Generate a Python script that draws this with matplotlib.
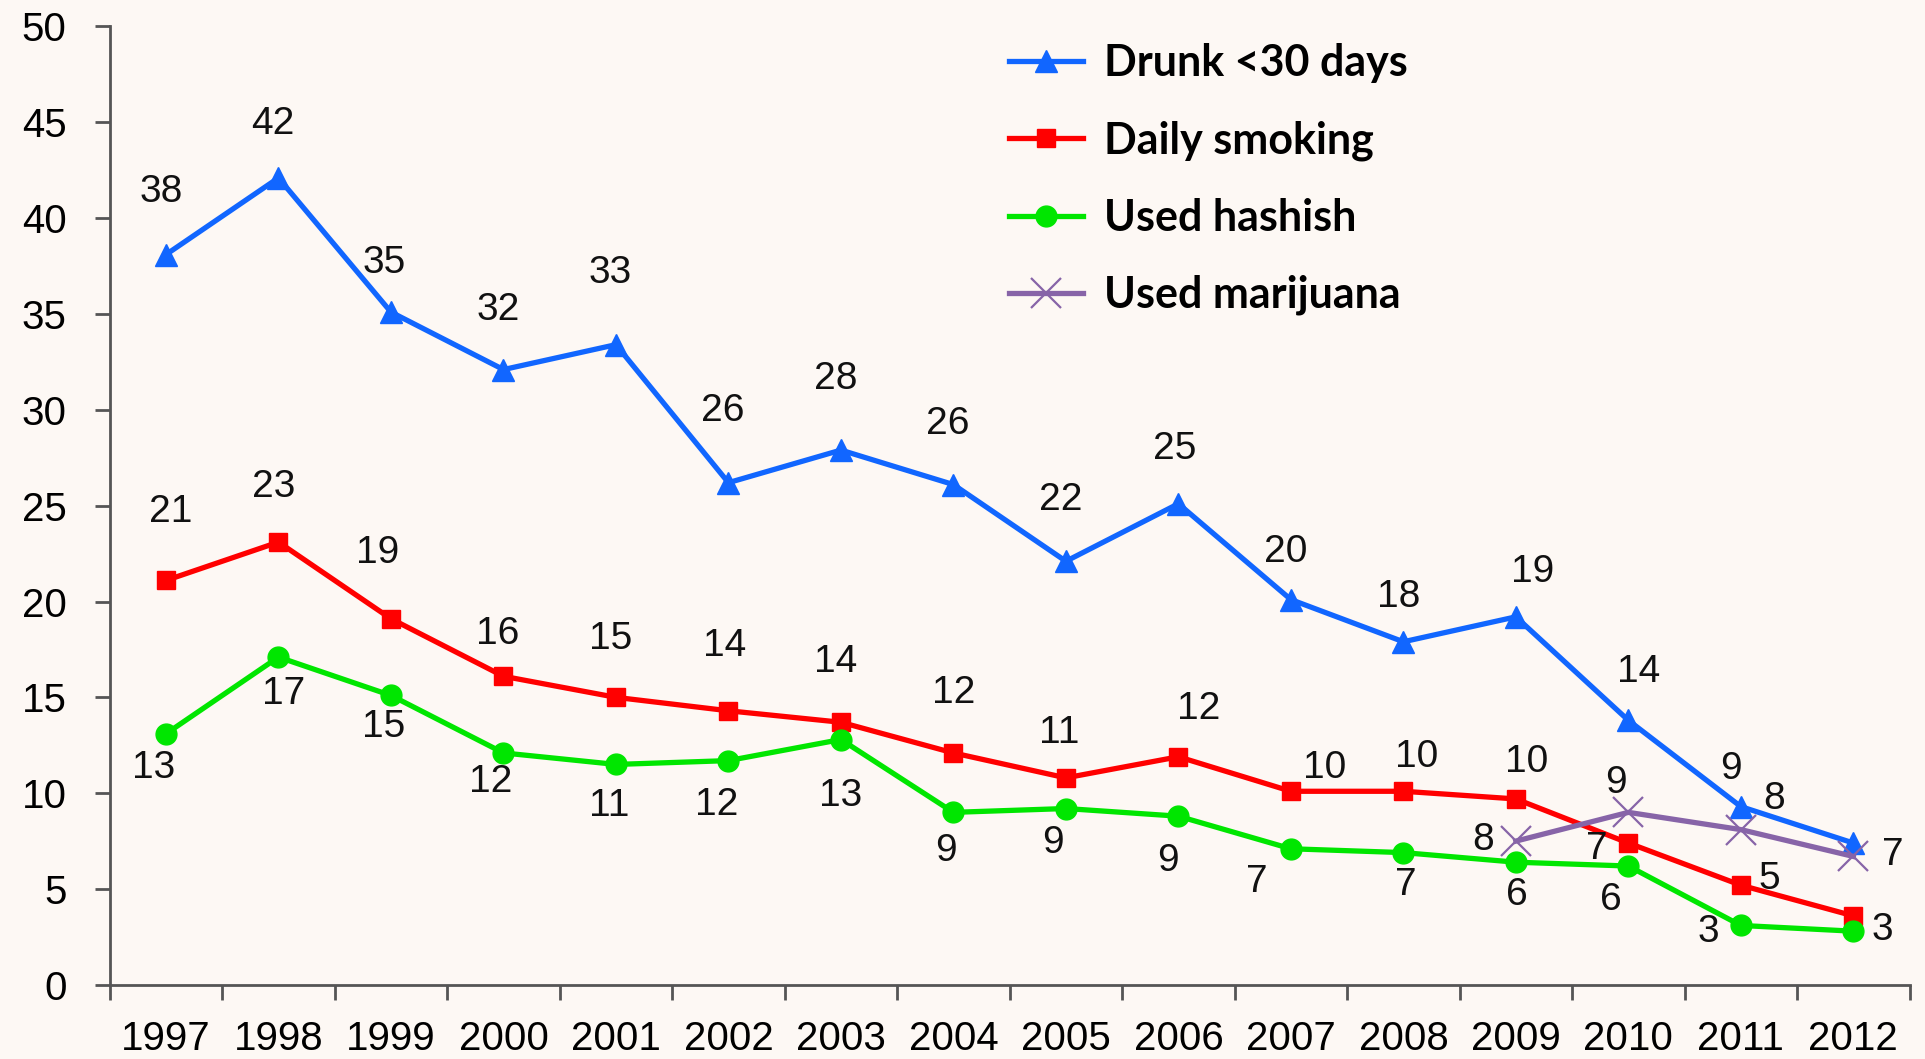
import matplotlib
matplotlib.use("Agg")
import matplotlib.pyplot as plt

years = ["1997", "1998", "1999", "2000", "2001", "2002", "2003", "2004",
         "2005", "2006", "2007", "2008", "2009", "2010", "2011", "2012"]

drunk = [38.1, 42.1, 35.1, 32.1, 33.4, 26.2, 27.9, 26.1,
         22.1, 25.1, 20.1, 17.9, 19.2, 13.8, 9.3, 7.4]
drunk_labels = ["38", "42", "35", "32", "33", "26", "28", "26",
                "22", "25", "20", "18", "19", "14", "9", "7"]

smoking = [21.1, 23.1, 19.1, 16.1, 15.0, 14.3, 13.7, 12.1,
           10.8, 11.9, 10.1, 10.1, 9.7, 7.4, 5.2, 3.6]
# the 2012 value shares its "3" with the hashish label in the source
smoking_labels = ["21", "23", "19", "16", "15", "14", "14", "12",
                  "11", "12", "10", "10", "10", "7", "5", None]

hashish = [13.1, 17.1, 15.1, 12.1, 11.5, 11.7, 12.8, 9.0,
           9.2, 8.8, 7.1, 6.9, 6.4, 6.2, 3.1, 2.8]
hashish_labels = ["13", "17", "15", "12", "11", "12", "13", "9",
                  "9", "9", "7", "7", "6", "6", "3", "3"]

marijuana_years = ["2009", "2010", "2011", "2012"]
marijuana = [7.5, 9.0, 8.1, 6.7]
# the 2012 value shares its "7" with the drunk label in the source
marijuana_labels = ["8", "9", "8", None]

# label offsets in pixels (dx, dy), y up
drunk_off = [(-5, 63), (-6, 54), (-7, 49), (-5, 60), (-6, 72), (-6, 72), (-5, 71), (-6, 61),
             (-5, 61), (-4, 55), (-5, 48), (-5, 45), (17, 45), (10, 48), (-10, 38), (39, -12)]
smoking_off = [(5, 68), (-5, 55), (-13, 66), (-6, 42), (-5, 58), (-4, 65), (-5, 60), (0, 60),
               (-7, 45), (20, 48), (34, 23), (13, 34), (11, 37), (-32, -6), (28, 6), (29, -10)]
hashish_off = [(-12, -34), (5, -37), (-7, -32), (-13, -29), (-7, -42), (-12, -44), (0, -56), (-7, -39),
               (-13, -34), (-10, -45), (-34, -33), (2, -32), (1, -33), (-17, -34), (-33, -7), (29, 1)]
marijuana_off = [(-33, 1), (-12, 29), (33, 31), (45, 0)]

BG = "#fdf8f4"
fig = plt.figure(figsize=(19.25, 10.59), dpi=100, facecolor=BG)
ax = fig.add_axes([0.057, 0.070, 0.935, 0.905], facecolor=BG)

x = list(range(len(years)))
xm = [years.index(y) for y in marijuana_years]

series = [
    ("Drunk <30 days", drunk, drunk_labels, drunk_off, x, "#1166ff", "^", 16, {}),
    ("Daily smoking", smoking, smoking_labels, smoking_off, x, "#ff0000", "s", 13, {}),
    ("Used hashish", hashish, hashish_labels, hashish_off, x, "#00e600", "o", 15, {}),
    ("Used marijuana", marijuana, marijuana_labels, marijuana_off, xm, "#8764a8", "x", 21,
     {"markeredgewidth": 1.6}),
]

for name, vals, labs, offs, xs, color, marker, ms, extra in series:
    ax.plot(xs, vals, color=color, lw=3.8, marker=marker, markersize=ms,
            label=name, zorder=3, **extra)
    for xi, v, lab, (dx, dy) in zip(xs, vals, labs, offs):
        if lab is None:
            continue
        ax.annotate(lab, (xi, v), xytext=(dx, dy), textcoords="offset pixels",
                    ha="center", va="center", fontsize=28, color="#111111",
                    family="Liberation Sans", zorder=4)

ax.set_xlim(-0.5, len(years) - 0.5)
ax.set_ylim(0, 50)
ax.set_yticks(range(0, 51, 5))
ax.set_xticks([i - 0.5 for i in range(len(years) + 1)])
ax.set_xticklabels([])
ax.set_xticks(x, minor=True)
ax.set_xticklabels(years, minor=True, fontsize=29,
                   family=["Liberation Sans Narrow", "Liberation Sans"])
ax.tick_params(axis="x", which="major", length=11, width=2, color="#555555", direction="out")
ax.tick_params(axis="x", which="minor", length=0, pad=25)
ax.tick_params(axis="y", length=11, width=2, color="#555555", labelsize=29, pad=20)
for t in ax.get_yticklabels():
    t.set_family("Liberation Sans")
for s in ("top", "right"):
    ax.spines[s].set_visible(False)
for s in ("left", "bottom"):
    ax.spines[s].set_color("#555555")
    ax.spines[s].set_linewidth(2)

leg = ax.legend(loc="upper left", bbox_to_anchor=(0.483, 1.014), frameon=False,
                prop={"family": "Lato", "weight": "bold", "size": 31},
                handlelength=1.72, handletextpad=0.49, labelspacing=0.86,
                borderaxespad=0.3)

fig.savefig("out.png", dpi=100, facecolor=BG)
